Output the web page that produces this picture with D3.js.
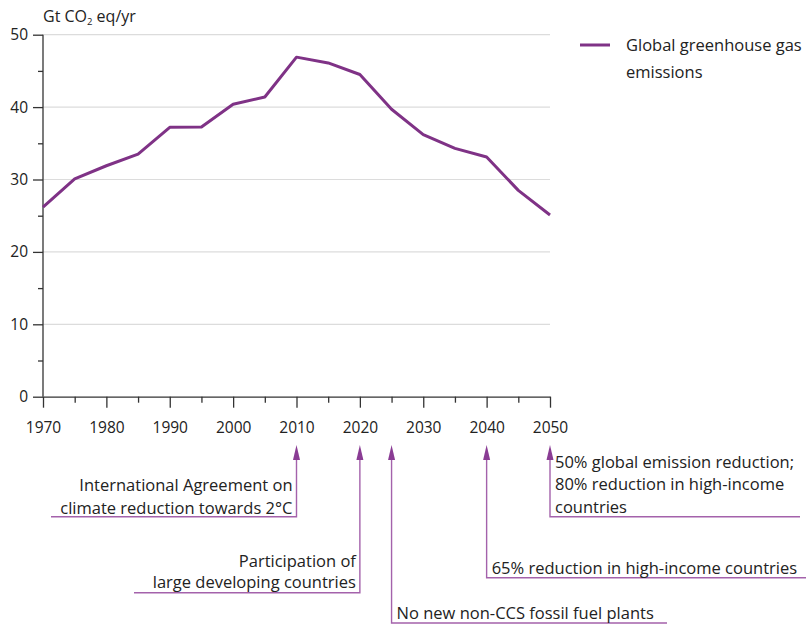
<!DOCTYPE html>
<html>
<head>
<meta charset="utf-8">
<script src="https://cdn.jsdelivr.net/npm/d3@7"></script>
<style>
  body { margin: 0; background: #fff; }
  svg { font-family: "Open Sans", sans-serif; }
</style>
</head>
<body>
<svg id="chart" width="807" height="625"></svg>
<script>
// emissions pathway
const years = [1970, 1975, 1980, 1985, 1990, 1995, 2000, 2005, 2010, 2015, 2020, 2025, 2030, 2035, 2040, 2045, 2050];
const emissions = [26.2, 30.1, 31.9, 33.5, 37.2, 37.25, 40.4, 41.4, 46.9, 46.1, 44.5, 39.7, 36.2, 34.3, 33.1, 28.5, 25.1];
const yTicks = [0, 10, 20, 30, 40, 50];
const xTicks = [1970, 1980, 1990, 2000, 2010, 2020, 2030, 2040, 2050];
const seriesName = ["Global greenhouse gas", "emissions"];

// milestones under the axis
const milestoneYears = [2010, 2020, 2025, 2040, 2050];
const milestoneText = [
  ["International Agreement on", "climate reduction towards 2°C"],
  ["Participation of", "large developing countries"],
  ["No new non-CCS fossil fuel plants"],
  ["65% reduction in high-income countries"],
  ["50% global emission reduction;", "80% reduction in high-income", "countries"]
];

const purple = "#7f3286";
const svg = d3.select("#chart");

const x = d3.scaleLinear().domain([1970, 2050]).range([43, 550]);
const y = d3.scaleLinear().domain([0, 50]).range([396.7, 34.7]);

// gridlines
svg.append("g").selectAll("line")
  .data(yTicks.filter(d => d > 0))
  .enter().append("line")
  .attr("x1", x(1970)).attr("x2", x(2050))
  .attr("y1", d => y(d)).attr("y2", d => y(d))
  .attr("stroke", "#dcdcdc").attr("stroke-width", 1.2);

// y axis: major ticks + minor ticks at 5s
const yAxis = svg.append("g").attr("transform", `translate(${x(1970)},0)`)
  .call(d3.axisLeft(y).tickValues(yTicks).tickSize(10).tickPadding(5).tickSizeOuter(0));
svg.append("g").attr("transform", `translate(${x(1970)},0)`)
  .call(d3.axisLeft(y).tickValues(d3.range(5, 50, 10)).tickSize(5).tickFormat("").tickSizeOuter(0))
  .select(".domain").remove();

// x axis
const xAxis = svg.append("g").attr("transform", `translate(0,${y(0)})`)
  .call(d3.axisBottom(x).tickValues(xTicks).tickFormat(d3.format("d")).tickSize(11).tickPadding(14).tickSizeOuter(0));
svg.append("g").attr("transform", `translate(0,${y(0)})`)
  .call(d3.axisBottom(x).tickValues(d3.range(1975, 2050, 10)).tickSize(6).tickFormat("").tickSizeOuter(0))
  .select(".domain").remove();

svg.selectAll(".tick text").attr("font-size", 15.5).attr("fill", "#222").attr("font-family", "Open Sans");
svg.selectAll(".domain, .tick line").attr("stroke", "#333").attr("stroke-width", 1.3);
yAxis.select(".domain").attr("d", `M0,${y(50)}V${y(0)}`);

// y title
const yt = svg.append("text").attr("x", 43).attr("y", 22).attr("font-size", 16).attr("fill", "#222");
yt.append("tspan").text("Gt CO");
yt.append("tspan").attr("font-size", 9.5).attr("dy", 3).text("2");
yt.append("tspan").attr("dy", -3).text(" eq/yr");

// emissions line
const line = d3.line().x((d, i) => x(years[i])).y(d => y(d));
svg.append("path").datum(emissions)
  .attr("d", line)
  .attr("fill", "none")
  .attr("stroke", purple)
  .attr("stroke-width", 3)
  .attr("stroke-linejoin", "round");

// legend
svg.append("line").attr("x1", 580).attr("x2", 610).attr("y1", 45).attr("y2", 45)
  .attr("stroke", purple).attr("stroke-width", 3);
svg.append("g").selectAll("text").data(seriesName).enter().append("text")
  .attr("x", 626).attr("y", (d, i) => 51 + i * 26.5)
  .attr("font-size", 16.5).attr("fill", "#222").text(d => d);

// milestone arrows
const lineColor = "#a462ab";
const arrowHead = "#8a3c94";
const boxes = [
  { side: "left", bottom: 516.7, end: 51, lines: [485, 507.7] },
  { side: "left", bottom: 592.7, end: 134, lines: [561, 582.3] },
  { side: "right", bottom: 623, end: 667, lines: [613.3] },
  { side: "right", bottom: 577.7, end: 806, lines: [567.7] },
  { side: "right", bottom: 516.7, end: 800, lines: [461.7, 484.3, 507] }
];

milestoneYears.forEach((yr, i) => {
  const xm = x(yr);
  const b = boxes[i];
  const g = svg.append("g");
  g.append("path")
    .attr("d", `M${xm},458V${b.bottom}H${b.end}`)
    .attr("fill", "none").attr("stroke", lineColor).attr("stroke-width", 1.4);
  g.append("path")
    .attr("d", `M${xm},445L${xm - 3.5},460H${xm + 3.5}Z`)
    .attr("fill", arrowHead);
  g.selectAll("text").data(milestoneText[i]).enter().append("text")
    .attr("x", b.side === "left" ? xm - 4 : xm + 5)
    .attr("y", (d, j) => b.lines[j] + 6)
    .attr("text-anchor", b.side === "left" ? "end" : "start")
    .attr("font-size", 16.5).attr("fill", "#222")
    .text(d => d);
});
</script>
</body>
</html>
